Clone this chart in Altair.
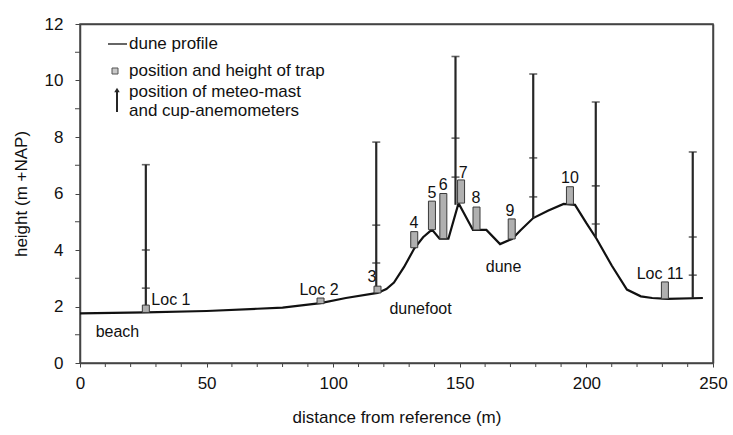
import altair as alt
import pandas as pd

# Axis limits
x_limits = [0, 250]
y_limits = [0, 12]

# Cross-shore dune profile: distance from reference (m) vs. height (m +NAP)
profile_x = [0, 26, 50, 70, 80, 95, 105, 117.5, 121, 124, 128, 132, 135.5, 139,
             142, 145.5, 149.5, 155.2, 160.5, 165.9, 170.6, 174, 179, 185, 191,
             195.5, 200, 204, 210, 216, 221.5, 226, 232, 246]
profile_y = [1.76, 1.79, 1.84, 1.92, 1.96, 2.12, 2.3, 2.48, 2.62, 2.85, 3.4, 4.05,
             4.45, 4.72, 4.4, 4.4, 5.66, 4.71, 4.71, 4.21, 4.39, 4.7, 5.13, 5.4,
             5.63, 5.6, 4.95, 4.4, 3.45, 2.6, 2.36, 2.3, 2.27, 2.3]

# Sand traps: position, base and top height
trap_x = [26, 95, 117.5, 132, 139, 143.5, 150.5, 156.6, 170.5, 193.5, 231]
trap_bottom = [1.79, 2.1, 2.48, 4.08, 4.72, 4.4, 5.66, 4.71, 4.39, 5.62, 2.27]
trap_top = [2.05, 2.3, 2.72, 4.65, 5.73, 6.0, 6.48, 5.52, 5.1, 6.24, 2.87]

# Meteo masts: position, foot, top and cup-anemometer heights
mast_x = [26, 117, 148.3, 179, 203.7, 242]
mast_bottom = [1.79, 2.48, 5.6, 5.13, 4.46, 2.3]
mast_top = [7.02, 7.82, 10.85, 10.23, 9.24, 7.47]
anemometer_heights = [
    [2.65, 4.0, 7.02],
    [3.54, 4.88, 7.82],
    [6.58, 7.96, 10.85],
    [5.88, 7.26, 10.23],
    [4.92, 6.27, 9.24],
    [3.11, 4.46, 7.47],
]

# Annotations
note_text = ["Loc 1", "Loc 2", "3", "4", "5", "6", "7", "8", "9", "10", "Loc 11",
             "beach", "dunefoot", "dune"]
note_x = [35.9, 94.4, 115.3, 131.9, 139.0, 143.4, 151.3, 156.4, 169.8, 193.5, 229.1,
          14.8, 134.5, 167.3]
note_y = [2.23, 2.58, 3.04, 4.96, 6.02, 6.30, 6.73, 5.84, 5.38, 6.55, 3.15,
          1.10, 1.91, 3.40]

# Axis ticks
x_major = [0, 50, 100, 150, 200, 250]
x_minor = [v for v in range(0, 251, 10) if v % 50]
y_major = [0, 2, 4, 6, 8, 10, 12]
y_minor = [1, 3, 5, 7, 9, 11]

FONT = "Liberation Sans"
INK = "#111111"
FRAME = "#444444"
MAST = "#262626"
W, H = 633, 339

profile = pd.DataFrame({"x": profile_x, "y": profile_y})
traps = pd.DataFrame({"x": trap_x, "y0": trap_bottom, "y1": trap_top})
masts = pd.DataFrame({"x": mast_x, "y0": mast_bottom, "y1": mast_top})
anemometers = pd.DataFrame(
    [{"x": mx, "y": h} for mx, hs in zip(mast_x, anemometer_heights) for h in hs]
)
notes = pd.DataFrame({"text": note_text, "x": note_x, "y": note_y})
corners = pd.DataFrame({"x": x_limits, "y": y_limits})

x_scale = alt.Scale(domain=x_limits, nice=False, zero=False, padding=0)
y_scale = alt.Scale(domain=y_limits, nice=False, zero=False, padding=0)

x_axis = alt.Axis(
    title="distance from reference (m)", values=x_major, labelOverlap=False,
    labelFlush=False, grid=False, tickSize=4, labelPadding=8, titlePadding=18,
)
y_axis = alt.Axis(
    title="height (m +NAP)", values=y_major, labelOverlap=False,
    labelFlush=False, grid=False, tickSize=5, labelPadding=12, titlePadding=14,
)

X = alt.X("x:Q", scale=x_scale, axis=x_axis)
Y = alt.Y("y:Q", scale=y_scale, axis=y_axis)
Y0 = alt.Y("y0:Q", scale=y_scale, axis=y_axis)

line = alt.Chart(profile).mark_line(color=INK, strokeWidth=2.2).encode(
    x=X, y=Y, order="x:Q",
)

# Minor ticks between the labelled ones
x_minor_ticks = alt.Chart(pd.DataFrame({"x": x_minor})).mark_rule(
    color=FRAME, strokeWidth=1
).encode(x=X, y=alt.value(H), y2=alt.value(H + 4))
y_minor_ticks = alt.Chart(pd.DataFrame({"y": y_minor})).mark_rule(
    color=FRAME, strokeWidth=1
).encode(y=Y, x=alt.value(-5), x2=alt.value(0))

mast_rules = alt.Chart(masts).mark_rule(color=MAST, strokeWidth=2.2).encode(
    x=X, y=Y0, y2="y1:Q"
)

anemo_ticks = alt.Chart(anemometers).mark_tick(
    orient="horizontal", size=8, thickness=1.6, color=MAST
).encode(x=X, y=Y)

trap_boxes = alt.Chart(traps).mark_bar(
    size=7, color="#b0b0b0", stroke="#3a3a3a", strokeWidth=1
).encode(x=X, y=Y0, y2="y1:Q")

note_marks = alt.Chart(notes).mark_text(
    font=FONT, fontSize=16, color=INK, baseline="middle", align="center"
).encode(x=X, y=Y, text="text:N")

one = pd.DataFrame({"k": [0]})

# Legend, drawn in the upper-left corner of the plot area
leg_line = alt.Chart(one).mark_rule(color="#666666", strokeWidth=2).encode(
    x=alt.value(28), x2=alt.value(47), y=alt.value(20)
)
leg_box = alt.Chart(one).mark_square(
    size=36, color="#c8c8c8", stroke="#555555", strokeWidth=1, opacity=1
).encode(x=alt.value(35), y=alt.value(47))
leg_mast = alt.Chart(one).mark_rule(color=MAST, strokeWidth=2).encode(
    x=alt.value(37), y=alt.value(66), y2=alt.value(88)
)
leg_head = alt.Chart(one).mark_point(
    shape="triangle-up", size=30, filled=True, color=MAST, opacity=1
).encode(x=alt.value(37), y=alt.value(66))


def leg_text(txt, ypx):
    return alt.Chart(one).mark_text(
        text=txt, font=FONT, fontSize=17, color=INK, align="left", baseline="middle"
    ).encode(x=alt.value(49), y=alt.value(ypx))


main = alt.layer(
    line, mast_rules, anemo_ticks, trap_boxes, note_marks,
    x_minor_ticks, y_minor_ticks,
    leg_line, leg_box, leg_mast, leg_head,
    leg_text("dune profile", 20),
    leg_text("position and height of trap", 47),
    leg_text("position of meteo-mast", 68),
    leg_text("and cup-anemometers", 87),
)

# Top and right edges of the box, as bare axis lines
edge_axis = dict(labels=False, ticks=False, grid=False, title=None, domain=True,
                 domainColor=FRAME, domainWidth=1.5)
edges = alt.Chart(corners).mark_point(opacity=0).encode(
    x=alt.X("x:Q", scale=x_scale, axis=alt.Axis(orient="top", **edge_axis)),
    y=alt.Y("y:Q", scale=y_scale, axis=alt.Axis(orient="right", **edge_axis)),
)

chart = alt.layer(main, edges).resolve_axis(
    x="independent", y="independent"
).properties(
    width=W, height=H,
    autosize=alt.AutoSizeParams(type="none"),
    padding={"left": 80, "top": 24, "right": 20, "bottom": 72},
    background="white",
).configure_view(
    stroke=FRAME, strokeWidth=1.5
).configure_axis(
    labelFont=FONT, titleFont=FONT, labelFontSize=17, titleFontSize=17,
    titleFontWeight="normal", labelColor=INK, titleColor=INK,
    domainColor=FRAME, tickColor=FRAME, domainWidth=1.5,
)

chart.save("out.html", embed_options={"renderer": "svg", "actions": False})
